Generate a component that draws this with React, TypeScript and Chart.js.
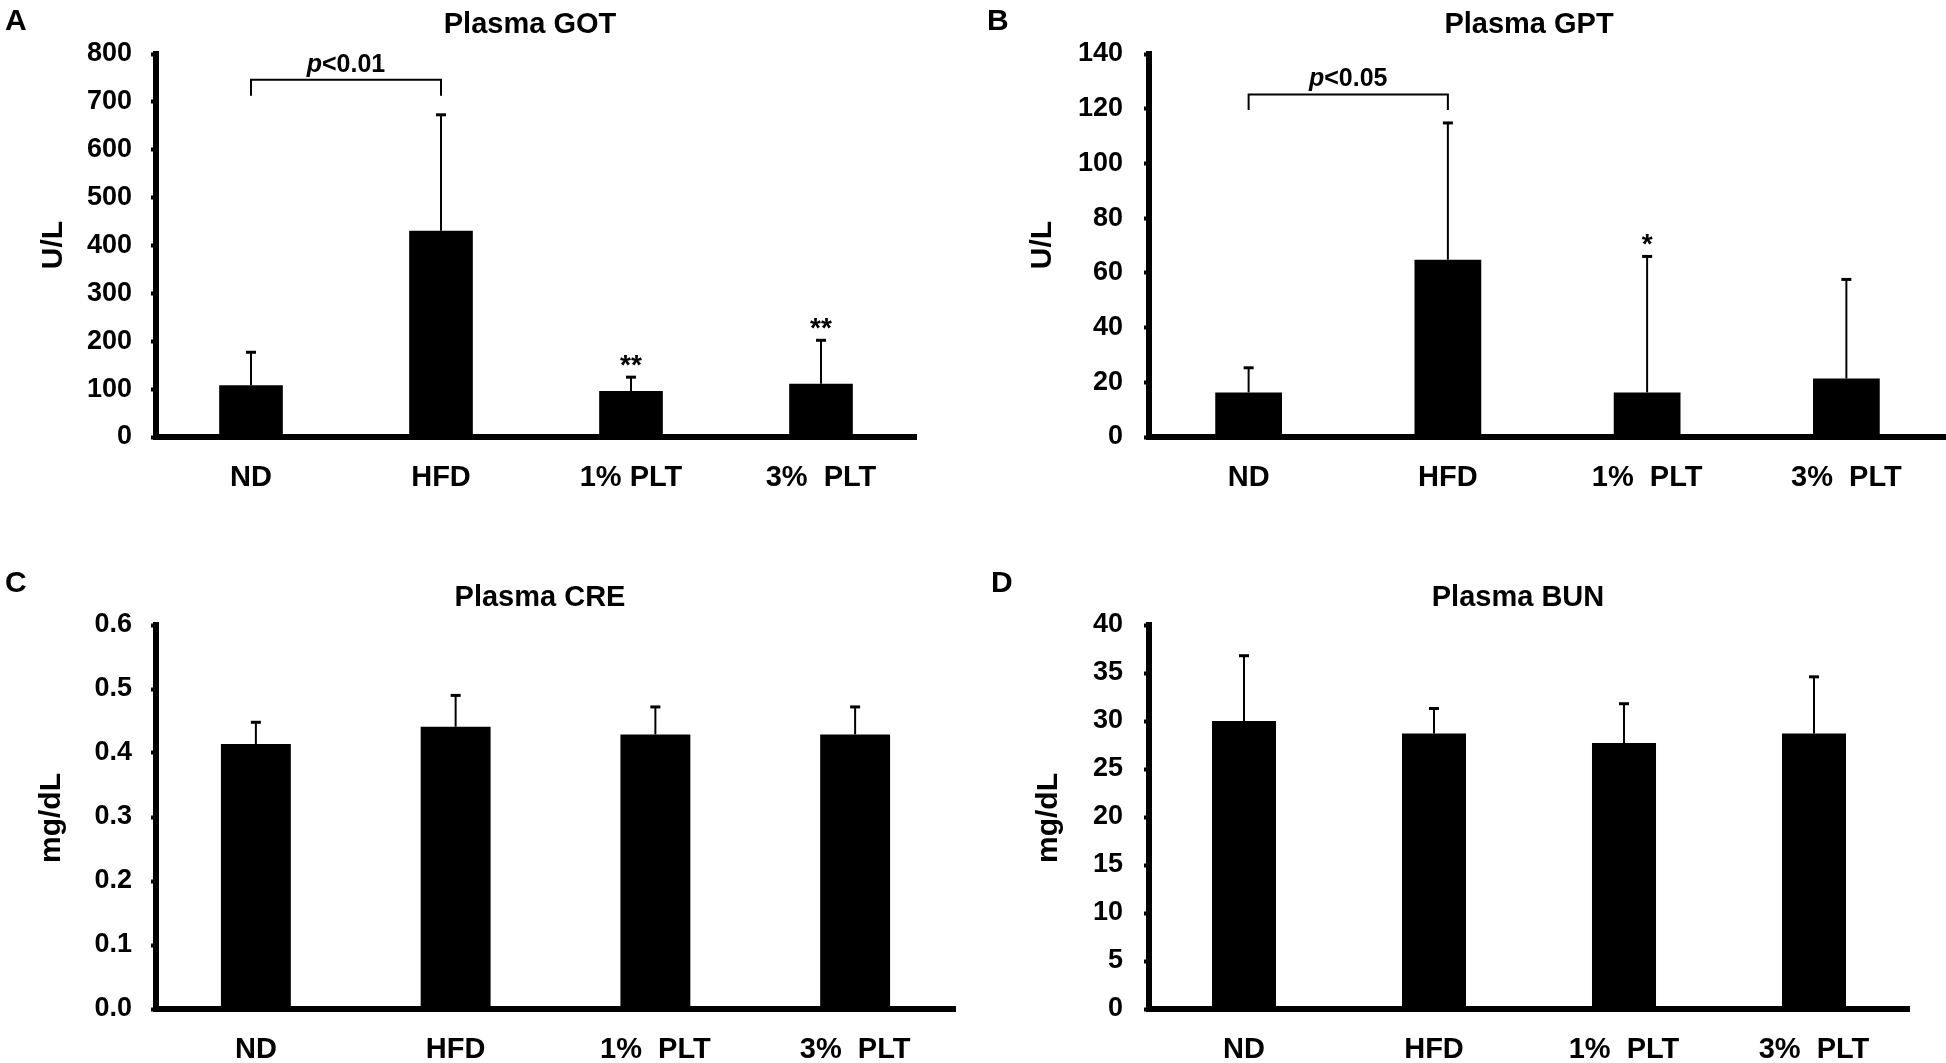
import React, { useEffect, useRef } from 'react';
import { Chart, registerables } from 'chart.js';

Chart.register(...registerables);

// ---------- data ----------
const categoriesA = ['ND', 'HFD', '1% PLT', '3%  PLT'];
const categoriesB = ['ND', 'HFD', '1%  PLT', '3%  PLT'];
const categoriesC = ['ND', 'HFD', '1%  PLT', '3%  PLT'];
const categoriesD = ['ND', 'HFD', '1%  PLT', '3%  PLT'];

const gotMean = [108, 431, 96, 111];
const gotSd = [69, 242, 29, 91];
const gotStars = ['', '', '**', '**'];
const gotTicks = [0, 100, 200, 300, 400, 500, 600, 700, 800];

const gptMean = [16.3, 64.8, 16.3, 21.4];
const gptSd = [9.0, 50.0, 49.7, 36.2];
const gptStars = ['', '', '*', ''];
const gptTicks = [0, 20, 40, 60, 80, 100, 120, 140];

const creMean = [0.414, 0.441, 0.429, 0.429];
const creSd = [0.034, 0.049, 0.043, 0.043];
const creTicks = [0, 0.1, 0.2, 0.3, 0.4, 0.5, 0.6];

const bunMean = [30.0, 28.7, 27.7, 28.7];
const bunSd = [6.8, 2.6, 4.1, 5.9];
const bunTicks = [0, 5, 10, 15, 20, 25, 30, 35, 40];

// significance brackets: [fromIndex, toIndex, topValue, bottomValue]
const gotBracket = [0, 1, 746, 713];
const gotPText = '<0.01';
const gptBracket = [0, 1, 125.2, 119.5];
const gptPText = '<0.05';

const FONT = "'Liberation Sans', Arial, Helvetica, sans-serif";

type Panel = {
  key: string;
  left: number; top: number; width: number; height: number;
  area: number[]; // l, t, r, b (local)
  barPct: number;
  labels: string[]; means: number[]; sds: number[]; ticks: number[]; decimals: number;
  title: string; titlePos: number[];
  letter: string; letterPos: number[];
  yTitle: string; yTitlePos: number[];
  tickPad: number; labelPad: number;
  stars?: string[];
  bracket?: number[]; pText?: string;
};

const panels: Panel[] = [
  {
    key: 'A', left: 0, top: 0, width: 973, height: 540,
    area: [156, 54, 916, 437], barPct: 0.335,
    labels: categoriesA, means: gotMean, sds: gotSd, ticks: gotTicks, decimals: 0,
    title: 'Plasma GOT', titlePos: [530, 25],
    letter: 'A', letterPos: [15, 22],
    yTitle: 'U/L', yTitlePos: [54, 245],
    tickPad: 19, labelPad: 16,
    stars: gotStars, bracket: gotBracket, pText: gotPText,
  },
  {
    key: 'B', left: 973, top: 0, width: 973, height: 540,
    area: [176, 54, 973, 437], barPct: 0.335,
    labels: categoriesB, means: gptMean, sds: gptSd, ticks: gptTicks, decimals: 0,
    title: 'Plasma GPT', titlePos: [556, 25],
    letter: 'B', letterPos: [24, 22],
    yTitle: 'U/L', yTitlePos: [70, 245],
    tickPad: 21, labelPad: 16,
    stars: gptStars, bracket: gptBracket, pText: gptPText,
  },
  {
    key: 'C', left: 0, top: 540, width: 973, height: 523,
    area: [156, 85, 955, 469], barPct: 0.35,
    labels: categoriesC, means: creMean, sds: creSd, ticks: creTicks, decimals: 1,
    title: 'Plasma CRE', titlePos: [540, 58],
    letter: 'C', letterPos: [15, 44],
    yTitle: 'mg/dL', yTitlePos: [52, 278],
    tickPad: 19, labelPad: 16,
  },
  {
    key: 'D', left: 973, top: 540, width: 973, height: 523,
    area: [176, 85, 936, 469], barPct: 0.337,
    labels: categoriesD, means: bunMean, sds: bunSd, ticks: bunTicks, decimals: 0,
    title: 'Plasma BUN', titlePos: [545, 58],
    letter: 'D', letterPos: [28, 44],
    yTitle: 'mg/dL', yTitlePos: [76, 278],
    tickPad: 21, labelPad: 16,
  },
];

function PanelChart({ p }: { p: Panel }) {
  const ref = useRef<HTMLCanvasElement | null>(null);

  useEffect(() => {
    if (!ref.current) return;
    const [aL, aT, aR, aB] = p.area;

    const annot = {
      id: 'annot' + p.key,
      afterDatasetsDraw(chart: any) {
        const ctx = chart.ctx;
        const xs = chart.scales.x;
        const ys = chart.scales.y;
        ctx.save();
        ctx.strokeStyle = '#000';
        ctx.fillStyle = '#000';
        p.means.forEach((m, i) => {
          const px = xs.getPixelForValue(i);
          const yb = ys.getPixelForValue(m);
          const yt = ys.getPixelForValue(m + p.sds[i]);
          ctx.lineWidth = 2;
          ctx.beginPath();
          ctx.moveTo(px, yb);
          ctx.lineTo(px, yt);
          ctx.stroke();
          ctx.lineWidth = 3;
          ctx.beginPath();
          ctx.moveTo(px - 5, yt);
          ctx.lineTo(px + 5, yt);
          ctx.stroke();
          const s = p.stars ? p.stars[i] : '';
          if (s) {
            ctx.font = `bold 28px ${FONT}`;
            ctx.textAlign = 'center';
            ctx.textBaseline = 'alphabetic';
            ctx.fillText(s, px, yt - 3);
          }
        });
        if (p.bracket) {
          const [f, t, top, bot] = p.bracket;
          const x1 = xs.getPixelForValue(f);
          const x2 = xs.getPixelForValue(t);
          const yT = ys.getPixelForValue(top);
          const yB = ys.getPixelForValue(bot);
          ctx.lineWidth = 2;
          ctx.beginPath();
          ctx.moveTo(x1, yB);
          ctx.lineTo(x1, yT);
          ctx.lineTo(x2, yT);
          ctx.lineTo(x2, yB);
          ctx.stroke();
          const fi = `italic bold 25px ${FONT}`;
          const fn = `bold 25px ${FONT}`;
          ctx.font = fi;
          const w1 = ctx.measureText('p').width;
          ctx.font = fn;
          const w2 = ctx.measureText(p.pText || '').width;
          const cx = (x1 + x2) / 2;
          const sx = cx - (w1 + w2) / 2;
          ctx.textAlign = 'left';
          ctx.textBaseline = 'alphabetic';
          ctx.font = fi;
          ctx.fillText('p', sx, yT - 8);
          ctx.font = fn;
          ctx.fillText(p.pText || '', sx + w1, yT - 8);
        }
        ctx.restore();
      },
      afterDraw(chart: any) {
        const ctx = chart.ctx;
        ctx.save();
        ctx.fillStyle = '#000';
        ctx.textAlign = 'center';
        ctx.textBaseline = 'middle';
        ctx.font = `bold 29px ${FONT}`;
        ctx.fillText(p.title, p.titlePos[0], p.titlePos[1]);
        ctx.textAlign = 'left';
        ctx.font = `bold 30px ${FONT}`;
        ctx.fillText(p.letter, p.letterPos[0] - 10, p.letterPos[1]);
        ctx.translate(p.yTitlePos[0], p.yTitlePos[1]);
        ctx.rotate(-Math.PI / 2);
        ctx.textAlign = 'center';
        ctx.font = `bold 30px ${FONT}`;
        ctx.fillText(p.yTitle, 0, 0);
        ctx.restore();
      },
    };

    const chart = new Chart(ref.current, {
      type: 'bar',
      data: {
        labels: p.labels,
        datasets: [
          {
            data: p.means,
            backgroundColor: '#000',
            borderWidth: 0,
            barPercentage: p.barPct,
            categoryPercentage: 1,
          },
        ],
      },
      options: {
        responsive: false,
        animation: false,
        events: [],
        layout: { padding: { left: 0, top: aT, right: p.width - aR, bottom: 0 } },
        plugins: { legend: { display: false }, tooltip: { enabled: false }, title: { display: false } },
        scales: {
          x: {
            type: 'category',
            offset: true,
            grid: { display: false },
            border: { display: true, color: '#000', width: 6 },
            ticks: {
              color: '#000',
              font: { family: FONT, size: 29, weight: 'bold' },
              padding: p.labelPad,
              maxRotation: 0,
              autoSkip: false,
            },
            afterFit: (s: any) => { s.height = p.height - aB; },
          },
          y: {
            type: 'linear',
            min: p.ticks[0],
            max: p.ticks[p.ticks.length - 1],
            afterBuildTicks: (s: any) => { s.ticks = p.ticks.map((v) => ({ value: v })); },
            grid: {
              display: true,
              drawOnChartArea: false,
              drawTicks: true,
              tickLength: 5,
              tickWidth: 4,
              tickColor: '#000',
            },
            border: { display: true, color: '#000', width: 6 },
            ticks: {
              color: '#000',
              font: { family: FONT, size: 27, weight: 'bold' },
              padding: p.tickPad,
              callback: (v: any) => Number(v).toFixed(p.decimals),
            },
            afterFit: (s: any) => { s.width = aL; },
          },
        },
      },
      plugins: [annot],
    } as any);

    return () => chart.destroy();
  }, [p]);

  return (
    <canvas
      ref={ref}
      width={p.width}
      height={p.height}
      style={{ position: 'absolute', left: p.left, top: p.top, width: p.width, height: p.height }}
    />
  );
}

export default function App() {
  return (
    <div style={{ position: 'fixed', left: 0, top: 0, width: 1946, height: 1063, background: '#fff' }}>
      {panels.map((p) => (
        <PanelChart key={p.key} p={p} />
      ))}
    </div>
  );
}
